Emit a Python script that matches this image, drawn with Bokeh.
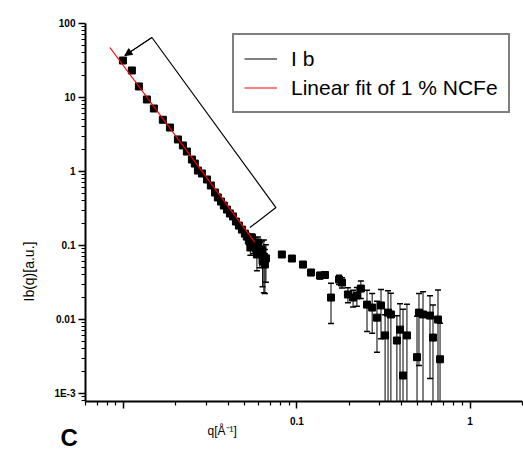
import math
from bokeh.plotting import figure
from bokeh.models import (FixedTicker, Whisker, TeeHead, ColumnDataSource, Legend,
                          LegendItem, Title, Arrow, NormalHead, Range1d)
from bokeh.embed import file_html
from bokeh.resources import INLINE

# ---- data ----
q = [0.00987, 0.01112, 0.01221, 0.01358, 0.0149, 0.01679, 0.01845, 0.02052, 0.02193, 0.02312,
     0.02472, 0.0257, 0.02677, 0.02825, 0.0302, 0.0318, 0.0336, 0.0349, 0.0364, 0.0378,
     0.0394, 0.041, 0.0427, 0.0444, 0.0462, 0.0481, 0.05, 0.0513, 0.0527, 0.0538,
     0.055, 0.0564, 0.058, 0.0587, 0.0595, 0.0611, 0.0627, 0.0633, 0.0644, 0.0653, 0.0662,
     0.0818, 0.0935, 0.1083, 0.1205, 0.1358, 0.1452, 0.1573, 0.175, 0.182, 0.197,
     0.211, 0.222, 0.234, 0.254, 0.272, 0.290, 0.306, 0.323, 0.336, 0.349,
     0.378, 0.394, 0.410, 0.432, 0.494, 0.507, 0.535, 0.587, 0.611, 0.653, 0.671]
intensity = [31.6, 23.2, 14.1, 9.4, 7.1, 5.0, 3.93, 2.71, 2.25, 1.86,
             1.45, 1.28, 1.03, 0.94, 0.78, 0.647, 0.52, 0.446, 0.393, 0.347,
             0.306, 0.271, 0.247, 0.211, 0.186, 0.164, 0.145, 0.132, 0.117, 0.094,
             0.128, 0.103, 0.091, 0.0756, 0.110, 0.080, 0.085, 0.0627, 0.071, 0.0554, 0.067,
             0.0756, 0.0667, 0.0554, 0.0432, 0.0393, 0.040, 0.0198, 0.0347, 0.0316, 0.0218,
             0.0198, 0.0211, 0.0262, 0.0159, 0.0145, 0.0106, 0.0155, 0.0061, 0.0124, 0.0117,
             0.0052, 0.0073, 0.00175, 0.0061, 0.0031, 0.0124, 0.0117, 0.0113, 0.0057, 0.010, 0.0029]
err = [0.5, 0.4, 0.2, 0.1, 0.08, 0.05, 0.04, 0.03, 0.025, 0.02,
       0.015, 0.013, 0.011, 0.01, 0.009, 0.008, 0.007, 0.006, 0.006, 0.006,
       0.006, 0.006, 0.006, 0.006, 0.006, 0.006, 0.006, 0.008, 0.015, 0.02,
       0.015, 0.025, 0.02, 0.03, 0.02, 0.03, 0.03, 0.035, 0.048, 0.033, 0.035,
       0.006, 0.005, 0.005, 0.004, 0.004, 0.004, 0.011, 0.005, 0.005, 0.005,
       0.005, 0.006, 0.007, 0.009, 0.008, 0.007, 0.010, 0.0055, 0.012, 0.011,
       0.006, 0.009, 0.012, 0.010, 0.008, 0.010, 0.012, 0.0097, 0.010, 0.015, 0.006]

fit_q = [0.0083, 0.0571]
fit_I = [47.4, 0.11]

note_q = [0.01013, 0.01452, 0.0756, 0.0535]
note_I = [37.0, 64.7, 0.326, 0.175]

y_ticks = [0.001, 0.01, 0.1, 1, 10, 100]
y_tick_labels = ["1E-3", "0.01", "0.1", "1", "10", "100"]
x_ticks = [0.01, 0.1, 1]
x_tick_labels = ["", "0.1", "1"]

# ---- figure ----
p = figure(width=523, height=449, x_axis_type="log", y_axis_type="log",
           x_range=Range1d(0.006, 2.01), y_range=Range1d(7.8e-4, 100),
           output_backend="svg", toolbar_location=None,
           min_border_left=85, min_border_right=1, min_border_top=23, min_border_bottom=48)
p.grid.visible = False
p.outline_line_color = None
p.background_fill_color = "white"
p.border_fill_color = "white"

def minors(lo_exp, hi_exp):
    return [m * 10.0 ** e for e in range(lo_exp, hi_exp) for m in range(2, 10)]

p.xaxis.ticker = FixedTicker(ticks=x_ticks, minor_ticks=minors(-3, 1))
p.yaxis.ticker = FixedTicker(ticks=y_ticks, minor_ticks=minors(-4, 2))
p.xaxis.major_label_overrides = {t: l for t, l in zip(x_ticks, x_tick_labels)}
p.yaxis.major_label_overrides = {t: l for t, l in zip(y_ticks, y_tick_labels)}

for ax in (p.xaxis, p.yaxis):
    ax.axis_line_width = 2
    ax.axis_line_color = "black"
    ax.major_tick_in = 0
    ax.major_tick_out = 7
    ax.minor_tick_in = 0
    ax.minor_tick_out = 4
    ax.major_tick_line_width = 1.5
    ax.minor_tick_line_width = 1.2
    ax.major_tick_line_color = "black"
    ax.minor_tick_line_color = "black"
    ax.major_label_text_font = "Liberation Sans"
    ax.major_label_text_font_size = "10px"
    ax.major_label_text_font_style = "bold"
    ax.major_label_text_color = "black"
p.xaxis.major_label_standoff = 8
p.yaxis.major_label_standoff = 3

up = [i + e for i, e in zip(intensity, err)]
lo = [max(i - e, 1e-6) for i, e in zip(intensity, err)]
src = ColumnDataSource(dict(q=q, I=intensity, up=up, lo=lo))

wh = Whisker(base="q", upper="up", lower="lo", source=src, dimension="height",
             line_color="black", line_width=1,
             upper_head=TeeHead(size=6, line_color="black", line_width=1.5),
             lower_head=TeeHead(size=6, line_color="black", line_width=1.5))
p.add_layout(wh)

p.scatter("q", "I", source=src, marker="square", size=7, fill_color="black", line_color="black")

note = p.line(note_q, note_I, line_color="black", line_width=1.2)
p.add_layout(Arrow(end=NormalHead(size=7, fill_color="black", line_color="black", line_width=1),
                   x_start=note_q[1], y_start=note_I[1], x_end=note_q[0], y_end=note_I[0],
                   line_color="black", line_width=1))

fit = p.line(fit_q, fit_I, line_color="red", line_width=1.2)

legend = Legend(items=[LegendItem(label="I b", renderers=[note]),
                       LegendItem(label="Linear fit of 1 % NCFe", renderers=[fit])],
                location=(147, 288))
legend.border_line_color = "black"
legend.border_line_width = 2
legend.background_fill_color = "white"
legend.background_fill_alpha = 1
legend.label_text_font = "Liberation Sans"
legend.label_text_font_size = "21px"
legend.label_text_color = "black"
legend.glyph_width = 33
legend.glyph_height = 27
legend.label_height = 27
legend.padding = 10
legend.spacing = 2
legend.label_standoff = 14
legend.margin = 0
p.add_layout(legend)

p.add_layout(Title(text="q[Å⁻¹]", align="left", offset=122, standoff=-8, vertical_align="top",
                   text_font="Liberation Sans", text_font_size="12px", text_font_style="normal",
                   text_color="black"), "below")
p.add_layout(Title(text="C", align="left", offset=-25, standoff=-24, vertical_align="top",
                   text_font="Liberation Sans", text_font_size="24px", text_font_style="bold",
                   text_color="black"), "below")
p.add_layout(Title(text="Ib(q)[a.u.]", align="left", offset=100, standoff=30,
                   text_font="Liberation Sans", text_font_size="14px", text_font_style="normal",
                   text_color="black"), "left")

open("out.html", "w").write(file_html(p, INLINE))
